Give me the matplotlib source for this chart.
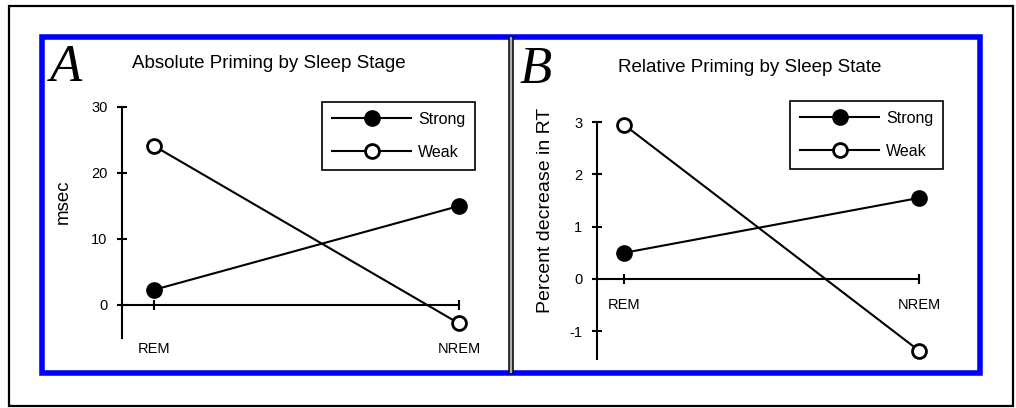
import matplotlib
matplotlib.use("Agg")
import matplotlib.pyplot as plt
from matplotlib.patches import Rectangle

plt.rcParams['font.family'] = ['Liberation Sans', 'DejaVu Sans']

# data
stages = ['REM', 'NREM']
abs_strong = [2.3, 15.0]
abs_weak = [24.1, -2.8]
rel_strong = [0.5, 1.55]
rel_weak = [2.95, -1.37]
abs_yticks = [0, 10, 20, 30]
rel_yticks = [-1, 0, 1, 2, 3]

W, H = 1016, 408
fig = plt.figure(figsize=(W / 100, H / 100), dpi=100)


def box(x0, y0, x1, y1):
    return [x0 / W, 1 - y1 / H, (x1 - x0) / W, (y1 - y0) / H]


def ftext(x, y, s, **kw):
    return fig.text(x / W, 1 - y / H, s, **kw)


# frames
bg = fig.add_axes([0, 0, 1, 1], zorder=0)
bg.set_xlim(0, W)
bg.set_ylim(H, 0)
bg.axis('off')
bg.add_patch(Rectangle((9, 6), 1004, 400, fill=False, ec='black', lw=1.6))
bg.add_patch(Rectangle((41.5, 37), 938.5, 335.5, fill=False, ec='#0000ff', lw=4))
bg.fill_between([509, 512.5], 37, 372.5, color='#b0b0b0', lw=0)
bg.plot([509, 509], [37, 372.5], color='black', lw=1.1)
bg.plot([512.5, 512.5], [37, 372.5], color='black', lw=1.1)


def panel(rect, xlim, ylim, ybounds, yticks, strong, weak, xpad, ypad, legend_xy):
    ax = fig.add_axes(rect, zorder=2)
    ax.set_facecolor('none')
    ax.set_xlim(*xlim)
    ax.set_ylim(*ylim)
    for s in ['top', 'right']:
        ax.spines[s].set_visible(False)
    ax.spines['left'].set_position(('data', xlim[0]))
    ax.spines['left'].set_bounds(*ybounds)
    ax.spines['bottom'].set_position(('data', 0))
    ax.spines['bottom'].set_bounds(xlim[0], 1)
    for s in ['left', 'bottom']:
        ax.spines[s].set_linewidth(1.5)
    x = list(range(len(stages)))
    ax.set_xticks(x)
    ax.set_xticklabels(stages)
    ax.set_yticks(yticks)
    ax.set_yticklabels([str(t) for t in yticks])
    ax.tick_params(axis='both', direction='inout', length=7, width=1.5, labelsize=10.5)
    ax.tick_params(axis='x', pad=xpad)
    ax.tick_params(axis='y', pad=ypad)
    ax.plot(x, strong, color='black', lw=1.5, marker='o', ms=11, mfc='black',
            mec='black', clip_on=False, label='Strong', zorder=3)
    ax.plot(x, weak, color='black', lw=1.5, marker='o', ms=10, mfc='white',
            mec='black', mew=2, clip_on=False, label='Weak', zorder=3)
    leg = ax.legend(loc='upper left', bbox_to_anchor=(legend_xy[0] / W, 1 - legend_xy[1] / H),
                    bbox_transform=fig.transFigure, borderaxespad=0, fontsize=11.5,
                    fancybox=False, edgecolor='black', framealpha=1, borderpad=0.6,
                    labelspacing=1.15, handlelength=5.0, handletextpad=0.4)
    leg.get_frame().set_linewidth(1.2)
    return ax


# panel A: REM at px 154, NREM at 459; 0 at py 305, 6.6 px per msec
axA = panel(box(122, 100, 480, 345),
            ((122 - 154) / 305, (480 - 154) / 305),
            ((305 - 345) / 6.6, (305 - 100) / 6.6),
            (-5, 30), abs_yticks, abs_strong, abs_weak, 23, 7, (322, 102))

# panel B: REM at px 624, NREM at 919; 0 at py 279, 52.3 px per percent
axB = panel(box(597, 115, 950, 362),
            ((597 - 624) / 295, (950 - 624) / 295),
            ((279 - 362) / 52.3, (279 - 115) / 52.3),
            (-1.53, 3), rel_yticks, rel_strong, rel_weak, 10, 7, (790, 101))

ftext(50, 81, 'A', family=['Liberation Serif', 'DejaVu Serif'], style='italic',
      fontsize=38, va='baseline', ha='left')
ftext(520, 83, 'B', family=['Liberation Serif', 'DejaVu Serif'], style='italic',
      fontsize=38, va='baseline', ha='left')
ftext(132, 63, 'Absolute Priming by Sleep Stage', fontsize=13.5, va='center', ha='left')
ftext(618, 68, 'Relative Priming by Sleep State', fontsize=13.5, va='center', ha='left')
ftext(63, 202, 'msec', fontsize=13.5, rotation=90, va='center', ha='center')
ftext(545, 210, 'Percent decrease in RT', fontsize=14, rotation=90, va='center', ha='center')

fig.savefig('out.png', dpi=100)
